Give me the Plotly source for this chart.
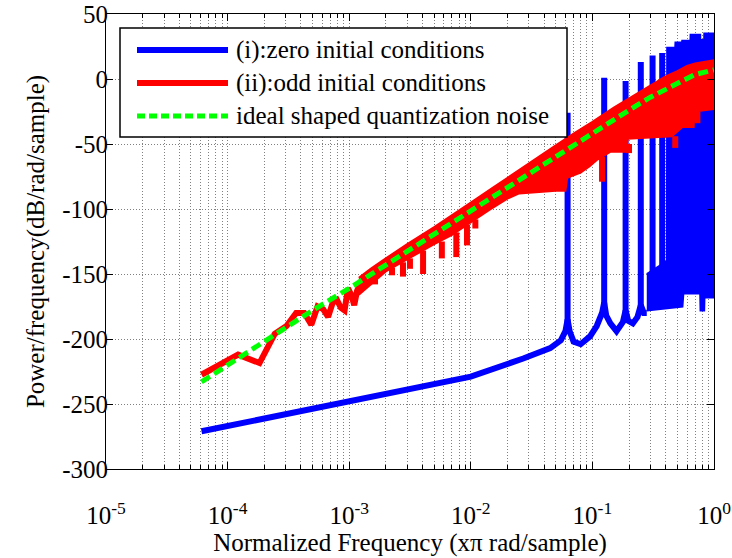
import plotly.graph_objects as go

# ---------------- data ----------------
# ideal shaped quantization noise (green dashed)
green_f = [6.1e-5, 1e-4, 2e-4, 5e-4, 1e-3, 2e-3, 5e-3, 1e-2, 2e-2, 5e-2, 0.1, 0.2, 0.3, 0.5, 0.7, 1.0]
green_db = [-233, -220, -202, -178, -161, -143, -119, -101, -83, -59, -42, -24, -14, -3, 3.5, 7]

# (i) zero initial conditions (blue): floor curve
blue_f = [6.1e-5, 1e-4, 3e-4, 1e-3, 3e-3, 1e-2, 2.7e-2, 4.5e-2, 5.5e-2, 6.0e-2, 6.25e-2, 6.5e-2,
          7.0e-2, 8.0e-2, 9.56e-2, 0.1085, 0.12, 0.125, 0.13, 0.1405, 0.158, 0.178, 0.1875,
          0.197, 0.215, 0.235, 0.25, 0.265, 0.28]
blue_db = [-271, -267, -258, -248, -239, -229, -215, -207, -201, -194, -185, -194,
           -202, -204, -198, -190, -180, -172, -182, -188, -194, -187, -178,
           -186, -188, -183, -174, -180, -180]
# blue tonal spikes: frequency, base level, peak level
blue_spike_f = [0.0625, 0.125, 0.1875, 0.25, 0.3125, 0.375]
blue_spike_base = [-190, -175, -180, -176, -170, -170]
blue_spike_top = [-26, 1, -1.5, 13, 18, 20]
# blue dense high-frequency region: upper and lower envelopes
blue_up_f = [0.28, 0.41, 0.412, 0.48, 0.482, 0.545, 0.548, 0.64, 0.642, 0.77, 0.772, 0.83, 0.832, 1.0]
blue_up_db = [-150, -140, 24, 24, 28, 28, 29.5, 29.5, 34, 34, 30, 30, 35, 35]
blue_lo_f = [0.28, 0.55, 0.56, 0.77, 0.775, 0.83, 0.835, 1.0]
blue_lo_db = [-178, -175, -165, -165, -178, -178, -168, -168]

# (ii) odd initial conditions (red): low-frequency bins
red_f = [6.10e-5, 1.22e-4, 1.83e-4, 2.44e-4, 3.05e-4, 3.66e-4, 4.27e-4, 4.88e-4, 5.49e-4, 6.10e-4,
         6.71e-4, 7.32e-4, 7.93e-4, 8.54e-4, 9.16e-4, 9.77e-4, 1.04e-3, 1.10e-3, 1.16e-3, 1.22e-3]
red_db = [-227.5, -212, -218.5, -196, -190, -180, -180, -189, -175, -177,
          -183, -172, -170, -176, -178, -161, -166, -174, -163, -158]
# red noisy band: upper and lower envelopes
red_up_f = [1.2e-3, 1.5e-3, 2e-3, 3e-3, 5e-3, 7e-3, 1e-2, 1.5e-2, 2e-2, 3e-2, 5e-2, 7e-2, 0.1,
            0.15, 0.2, 0.3, 0.4, 0.5, 0.6, 0.7, 0.8, 0.9, 1.0]
red_up_db = [-153, -146, -138, -127, -114, -104.5, -95, -84, -76, -65, -51, -42, -33,
             -22, -15, -4.5, 2, 6, 10, 12, 13, 14, 14.5]
red_lo_f = [1.2e-3, 2e-3, 3e-3, 5e-3, 7e-3, 1e-2, 1.4e-2, 2e-2, 2.5e-2, 5e-2, 6e-2, 6.2e-2, 8e-2,
            9.5e-2, 0.11, 0.14, 0.19, 0.195, 0.45, 0.55, 0.68, 0.69, 1.0]
red_lo_db = [-166, -148, -139, -127, -120, -110, -101, -92, -88, -86, -86, -76, -72,
             -67, -62, -56, -56, -46, -44, -37, -37, -25, -23]
# red downward spikes: frequency, band level, spike bottom
red_spike_f = [1.63e-3, 2.25e-3, 2.77e-3, 3.16e-3, 4.05e-3, 5.78e-3, 7.6e-3, 9.3e-3, 1.09e-2,
               0.12, 0.2, 0.48, 0.73]
red_spike_from = [-152, -145, -141, -138, -132, -125, -118, -112, -108, -60, -50, -44, -25]
red_spike_to = [-158, -151, -152, -146, -150, -138, -137, -128, -115, -79, -57, -53, -34]

x_tickvals = [1e-5, 1e-4, 1e-3, 1e-2, 1e-1, 1e0]
x_ticktext = ["10<sup>-5</sup>", "10<sup>-4</sup>", "10<sup>-3</sup>", "10<sup>-2</sup>",
              "10<sup>-1</sup>", "10<sup>0</sup>"]
y_tickvals = [50, 0, -50, -100, -150, -200, -250, -300]
y_ticktext = ["50", "0", "-50", "-100", "-150", "-200", "-250", "-300"]
legend_labels = ["(i):zero initial conditions", "(ii):odd initial conditions",
                 "ideal shaped quantization noise"]

# ---------------- figure ----------------
BLUE, RED, GREEN = "#0000ff", "#ff0000", "#00ff00"
FONT = "Liberation Serif, Times New Roman, serif"
LW = 6


def segments(fs, a, b):
    xs, ys = [], []
    for f, y0, y1 in zip(fs, a, b):
        xs += [f, f, None]
        ys += [y0, y1, None]
    return xs, ys


fig = go.Figure()

# blue
fig.add_trace(go.Scatter(x=blue_f, y=blue_db, mode="lines", line=dict(color=BLUE, width=LW),
                         showlegend=False, hoverinfo="skip"))
sx, sy = segments(blue_spike_f, blue_spike_base, blue_spike_top)
fig.add_trace(go.Scatter(x=sx, y=sy, mode="lines", line=dict(color=BLUE, width=LW),
                         showlegend=False, hoverinfo="skip"))
fig.add_trace(go.Scatter(x=blue_up_f + blue_lo_f[::-1], y=blue_up_db + blue_lo_db[::-1],
                         mode="lines", fill="toself", fillcolor=BLUE,
                         line=dict(color=BLUE, width=2), showlegend=False, hoverinfo="skip"))
# red
fig.add_trace(go.Scatter(x=red_f, y=red_db, mode="lines", line=dict(color=RED, width=LW),
                         showlegend=False, hoverinfo="skip"))
fig.add_trace(go.Scatter(x=red_up_f + red_lo_f[::-1], y=red_up_db + red_lo_db[::-1],
                         mode="lines", fill="toself", fillcolor=RED,
                         line=dict(color=RED, width=2), showlegend=False, hoverinfo="skip"))
sx, sy = segments(red_spike_f, red_spike_from, red_spike_to)
fig.add_trace(go.Scatter(x=sx, y=sy, mode="lines", line=dict(color=RED, width=LW),
                         showlegend=False, hoverinfo="skip"))
# green
fig.add_trace(go.Scatter(x=green_f, y=green_db, mode="lines",
                         line=dict(color=GREEN, width=5, dash="10px,5px"),
                         showlegend=False, hoverinfo="skip"))

# minor log ticks
minor_vals = [m * 10.0 ** e for e in range(-5, 0) for m in range(2, 10)]

grid_col = "#808080"
fig.update_xaxes(type="log", range=[-5, 0], tickmode="array", tickvals=x_tickvals,
                 ticktext=x_ticktext, ticks="inside", ticklen=7, tickcolor="black",
                 mirror="allticks", showline=True, linecolor="black", linewidth=1,
                 showgrid=True, gridcolor=grid_col, griddash="1px,2px", gridwidth=1,
                 zeroline=False, ticklabelstandoff=24, automargin=False,
                 tickfont=dict(family=FONT, size=25, color="black"),
                 minor=dict(tickmode="array", tickvals=minor_vals, ticks="inside", ticklen=4,
                            tickcolor="black", showgrid=True, gridcolor=grid_col,
                            griddash="1px,2px", gridwidth=1),
                 title=dict(text="Normalized Frequency (xπ rad/sample)", standoff=4,
                            font=dict(family=FONT, size=25, color="black")))
fig.update_yaxes(range=[-300, 50], tickmode="array", tickvals=y_tickvals, ticktext=y_ticktext,
                 ticks="inside", ticklen=7, tickcolor="black", mirror="allticks",
                 showline=True, linecolor="black", linewidth=1, showgrid=True,
                 gridcolor=grid_col, griddash="1px,2px", gridwidth=1, zeroline=False,
                 automargin=False, ticklabelstandoff=-8,
                 tickfont=dict(family=FONT, size=25, color="black"),
                 title=dict(text="Power/frequency(dB/rad/sample)", standoff=10,
                            font=dict(family=FONT, size=25, color="black")))

# legend drawn as a boxed key
L, R, T, B = 106, 714, 14, 469
def px(x):
    return (x - L) / (R - L)
def py(y):
    return (B - y) / (B - T)

shapes = [dict(type="rect", xref="paper", yref="paper", x0=px(120), x1=px(567), y0=py(137),
               y1=py(28), line=dict(color="black", width=1.5), fillcolor="white", layer="above")]
rows = [50, 83, 116]
styles = [dict(color=BLUE, width=6), dict(color=RED, width=6),
          dict(color=GREEN, width=5, dash="8px,4px")]
annotations = []
for r, st, lab in zip(rows, styles, legend_labels):
    shapes.append(dict(type="line", xref="paper", yref="paper", x0=px(137), x1=px(228),
                       y0=py(r), y1=py(r), line=st, layer="above"))
    annotations.append(dict(xref="paper", yref="paper", x=px(234), y=py(r), text=lab,
                            showarrow=False, xanchor="left", yanchor="middle",
                            font=dict(family=FONT, size=25, color="black")))

fig.update_layout(width=732, height=558, margin=dict(l=L, r=732 - R, t=T, b=558 - B),
                  paper_bgcolor="white", plot_bgcolor="white", shapes=shapes,
                  annotations=annotations, showlegend=False)

fig.write_html("out.html", config={"displayModeBar": False},
               post_script="document.body.style.margin='0px';")
